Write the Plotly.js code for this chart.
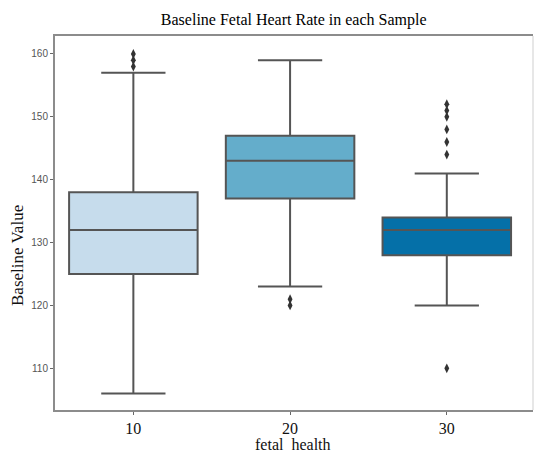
<!DOCTYPE html>
<html>
<head>
<meta charset="utf-8">
<script src="https://cdn.plot.ly/plotly-3.0.1.min.js"></script>
<style>html,body{margin:0;padding:0;background:#fff;}#chart{width:534px;height:454px;}</style>
</head>
<body>
<div id="chart"></div>
<script>
const categories = ['10', '20', '30'];
const q1Values = [125, 137, 128];
const medianValues = [132, 143, 132];
const q3Values = [138, 147, 134];
const lowerWhiskers = [106, 123, 120];
const upperWhiskers = [157, 159, 141];
const outliers10 = [158, 159, 160];
const outliers20 = [120, 121];
const outliers30 = [110, 144, 146, 148, 150, 151, 152];
const boxColors = ['#c6dcec', '#64adcb', '#0570a8'];
const yTickValues = [110, 120, 130, 140, 150, 160];

const outlierSets = [outliers10, outliers20, outliers30];
const traces = [];
categories.forEach((c, i) => {
  traces.push({
    type: 'box',
    x: [c],
    q1: [q1Values[i]],
    median: [medianValues[i]],
    q3: [q3Values[i]],
    lowerfence: [lowerWhiskers[i]],
    upperfence: [upperWhiskers[i]],
    fillcolor: boxColors[i],
    line: {color: '#555555', width: 2},
    width: 0.82,
    whiskerwidth: 0.5,
    boxpoints: false,
    showlegend: false,
    hoverinfo: 'skip'
  });
});
categories.forEach((c, i) => {
  traces.push({
    type: 'scatter',
    mode: 'markers',
    x: outlierSets[i].map(() => c),
    y: outlierSets[i],
    marker: {symbol: 'diamond-tall', size: 7, color: '#333333'},
    showlegend: false,
    hoverinfo: 'skip'
  });
});

const layout = {
  width: 534,
  height: 454,
  margin: {l: 55, r: 1, t: 36, b: 44},
  paper_bgcolor: '#ffffff',
  plot_bgcolor: '#ffffff',
  boxmode: 'overlay',
  title: {
    text: 'Baseline Fetal Heart Rate in each Sample',
    font: {family: 'Liberation Serif', size: 16, color: '#000'},
    x: 0.55, xanchor: 'center',
    y: 1 - 19 / 454, yref: 'container', yanchor: 'middle'
  },
  xaxis: {
    type: 'category',
    categoryorder: 'array',
    categoryarray: categories,
    range: [-0.5, 2.55],
    showgrid: false,
    zeroline: false,
    showline: true,
    mirror: true,
    linecolor: '#8c8c8c',
    linewidth: 2,
    ticks: 'outside',
    ticklen: 3,
    tickcolor: '#666',
    tickfont: {family: 'Liberation Serif', size: 16, color: '#111'},
    title: {text: ''}
  },
  yaxis: {
    range: [103.37, 162.86],
    tickvals: yTickValues,
    showgrid: false,
    zeroline: false,
    showline: true,
    linecolor: '#8c8c8c',
    linewidth: 2,
    ticks: 'outside',
    ticklen: 3,
    tickcolor: '#666',
    tickfont: {family: 'Liberation Sans', size: 10, color: '#555'},
    title: {text: ''}
  },
  shapes: [{
    type: 'line', xref: 'paper', yref: 'paper',
    x0: 1, x1: 1, y0: 0, y1: 1,
    line: {color: '#cfcfcf', width: 1}
  }],
  annotations: [{
    text: 'Baseline Value',
    xref: 'paper', yref: 'paper',
    x: (17 - 55) / 478, y: (410 - 256) / 374,
    xanchor: 'center', yanchor: 'middle',
    textangle: -90,
    showarrow: false,
    font: {family: 'Liberation Serif', size: 17, color: '#111'}
  }, {
    text: 'fetal\u00a0 health',
    xref: 'paper', yref: 'paper',
    x: (293 - 55) / 478, y: (410 - 454) / 374,
    xanchor: 'center', yanchor: 'bottom',
    borderpad: 0,
    showarrow: false,
    font: {family: 'Liberation Serif', size: 16, color: '#111'}
  }]
};

Plotly.newPlot('chart', traces, layout, {displayModeBar: false, staticPlot: true});
</script>
</body>
</html>
